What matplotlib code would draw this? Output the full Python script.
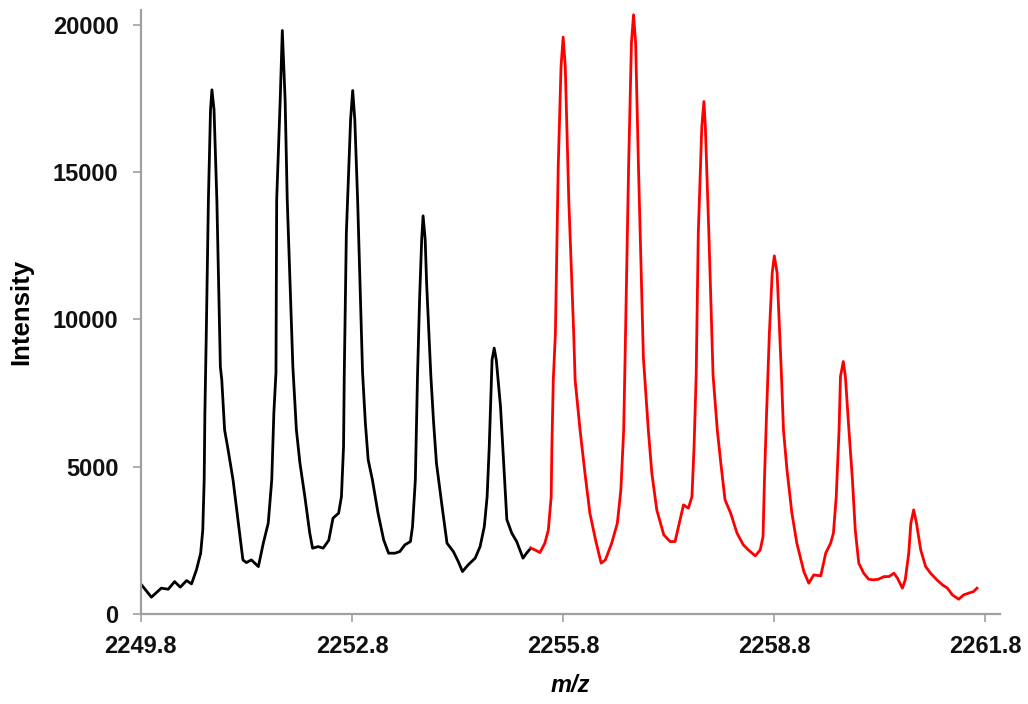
import matplotlib
matplotlib.use("Agg")
import matplotlib.pyplot as plt

# trace: first isotope cluster (black)
mz_black = [2249.81, 2249.95, 2250.09, 2250.19, 2250.28, 2250.36, 2250.45, 2250.52,
            2250.59, 2250.65, 2250.68, 2250.70, 2250.71, 2250.73, 2250.76, 2250.79,
            2250.81, 2250.84, 2250.88, 2250.93, 2250.95, 2250.99, 2251.04, 2251.11,
            2251.18, 2251.25, 2251.30, 2251.37, 2251.47, 2251.54, 2251.61, 2251.66,
            2251.69, 2251.72, 2251.73, 2251.78, 2251.81, 2251.85, 2251.88, 2251.96,
            2252.01, 2252.06, 2252.13, 2252.20, 2252.24, 2252.32, 2252.39, 2252.47,
            2252.53, 2252.61, 2252.65, 2252.68, 2252.69, 2252.72, 2252.78, 2252.81,
            2252.84, 2252.88, 2252.95, 2252.99, 2253.03, 2253.09, 2253.17, 2253.25,
            2253.32, 2253.41, 2253.48, 2253.55, 2253.63, 2253.66, 2253.70, 2253.73,
            2253.76, 2253.79, 2253.81, 2253.84, 2253.86, 2253.92, 2253.96, 2254.00,
            2254.08, 2254.15, 2254.24, 2254.31, 2254.37, 2254.45, 2254.55, 2254.62,
            2254.68, 2254.72, 2254.75, 2254.79, 2254.82, 2254.85, 2254.91, 2254.95,
            2255.00, 2255.07, 2255.14, 2255.23, 2255.28, 2255.34]
int_black = [985, 567, 873, 838, 1097, 907, 1131, 1019,
             1494, 2061, 2853, 4550, 6826, 9543, 14060, 17116,
             17795, 17116, 14060, 8388, 7947, 6249, 5569, 4550,
             3192, 1834, 1742, 1834, 1606, 2401, 3080, 4550,
             6826, 8200, 14060, 17455, 19809, 17455, 14060, 8388,
             6249, 5128, 3984, 2741, 2231, 2286, 2231, 2500,
             3250, 3420, 3984, 5681, 8100, 12939, 16776, 17772,
             16776, 14060, 8200, 6476, 5230, 4550, 3420, 2513,
             2061, 2061, 2117, 2343, 2456, 2966, 4550, 8000,
             10663, 12701, 13516, 12701, 11241, 8100, 6476, 5118,
             3644, 2401, 2117, 1776, 1437, 1664, 1892, 2286,
             2966, 3984, 5681, 8626, 9023, 8626, 7040, 5342,
             3200, 2741, 2456, 1892, 2061, 2231]

# second isotope cluster (red)
mz_red = [2255.34, 2255.40, 2255.47, 2255.54, 2255.59, 2255.63, 2255.64, 2255.66,
          2255.69, 2255.73, 2255.77, 2255.80, 2255.83, 2255.88, 2255.95, 2255.97,
          2256.04, 2256.11, 2256.18, 2256.26, 2256.34, 2256.40, 2256.49, 2256.57,
          2256.62, 2256.66, 2256.68, 2256.73, 2256.77, 2256.80, 2256.83, 2256.87,
          2256.94, 2257.01, 2257.06, 2257.13, 2257.23, 2257.32, 2257.39, 2257.45,
          2257.51, 2257.58, 2257.63, 2257.66, 2257.69, 2257.72, 2257.77, 2257.80,
          2257.82, 2257.87, 2257.93, 2257.99, 2258.04, 2258.10, 2258.18, 2258.27,
          2258.36, 2258.43, 2258.53, 2258.60, 2258.64, 2258.66, 2258.69, 2258.73,
          2258.77, 2258.80, 2258.84, 2258.90, 2258.93, 2258.98, 2259.05, 2259.12,
          2259.22, 2259.29, 2259.36, 2259.46, 2259.53, 2259.60, 2259.64, 2259.68,
          2259.72, 2259.74, 2259.78, 2259.81, 2259.86, 2259.91, 2259.95, 2260.00,
          2260.07, 2260.14, 2260.21, 2260.28, 2260.36, 2260.43, 2260.50, 2260.55,
          2260.62, 2260.66, 2260.71, 2260.74, 2260.78, 2260.82, 2260.88, 2260.95,
          2261.02, 2261.11, 2261.19, 2261.26, 2261.33, 2261.42, 2261.49, 2261.56,
          2261.63, 2261.68]
int_red = [2231, 2173, 2082, 2401, 2853, 3984, 5681, 7947,
           9532, 15191, 18587, 19584, 18587, 14060, 9532, 7947,
           6249, 4778, 3420, 2513, 1722, 1834, 2401, 3080,
           4211, 6249, 8700, 15191, 19381, 20342, 19381, 15191,
           8700, 6249, 4778, 3532, 2683, 2456, 2456, 3080,
           3702, 3590, 3984, 5681, 8100, 12929, 16549, 17398,
           16549, 12929, 8100, 6249, 5118, 3871, 3420, 2741,
           2343, 2173, 1970, 2173, 2626, 4550, 6815, 9532,
           11570, 12157, 11570, 8200, 6249, 4890, 3420, 2401,
           1437, 1042, 1324, 1290, 2061, 2401, 2741, 3984,
           6249, 8059, 8569, 8059, 6249, 4550, 2853, 1722,
           1382, 1178, 1155, 1178, 1267, 1267, 1382, 1212,
           873, 1155, 2061, 3080, 3532, 3080, 2173, 1606,
           1382, 1155, 985, 873, 645, 499, 645, 703,
           757, 873]

xticks = [2249.8, 2252.8, 2255.8, 2258.8, 2261.8]
yticks = [0, 5000, 10000, 15000, 20000]

plt.rcParams['font.family'] = ['Liberation Sans', 'DejaVu Sans']

fig = plt.figure(figsize=(10.28, 7.04), dpi=100)
ax = fig.add_axes([0.137, 0.128, 0.836, 0.858])

ax.plot(mz_black, int_black, color='black', lw=2.0, solid_joinstyle='round')
ax.plot(mz_red, int_red, color='#ff0000', lw=2.0, solid_joinstyle='round')

ax.set_xlim(2249.8, 2262.01)
ax.set_ylim(0, 20510)
ax.set_xticks(xticks)
ax.set_xticklabels([f"{t:.1f}" for t in xticks])
ax.set_yticks(yticks)
ax.set_yticklabels([str(t) for t in yticks])

for s in ['top', 'right']:
    ax.spines[s].set_visible(False)
for s in ['left', 'bottom']:
    ax.spines[s].set_color('#a0a0a0')
    ax.spines[s].set_linewidth(1.6)
ax.tick_params(axis='both', colors='#a0a0a0', length=6, width=1.2, direction='out')
ax.tick_params(axis='both', labelcolor='#111111', labelsize=17)
for lab in ax.get_xticklabels() + ax.get_yticklabels():
    lab.set_fontweight('bold')
ax.tick_params(axis='x', pad=9)
ax.tick_params(axis='y', pad=10)

ax.set_xlabel('m/z', fontsize=17, fontweight='bold', fontstyle='italic', labelpad=12)
ax.set_ylabel('Intensity', fontsize=18.5, fontweight='bold', labelpad=14)

fig.savefig('out.png', dpi=100)
